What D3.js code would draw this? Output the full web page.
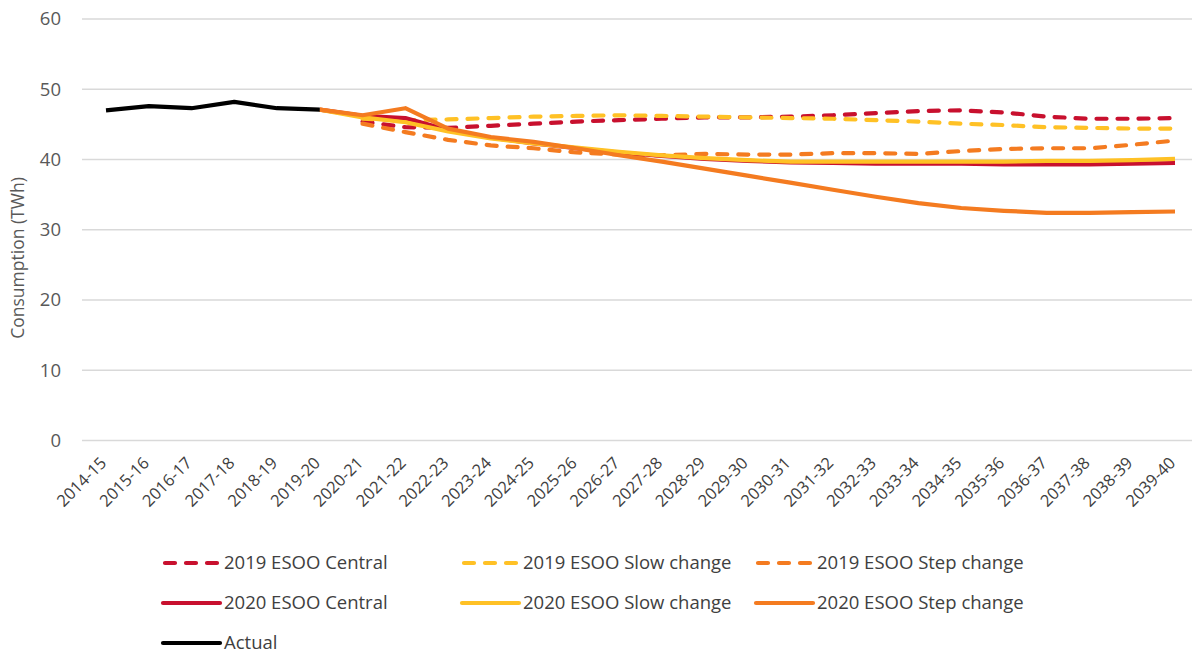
<!DOCTYPE html>
<html>
<head>
<meta charset="utf-8">
<script src="https://cdn.jsdelivr.net/npm/d3@7"></script>
<style>
  html, body { margin: 0; padding: 0; background: #ffffff; }
  svg { display: block; }
  text { font-family: "Open Sans", "Noto Sans", sans-serif; }
</style>
</head>
<body>
<svg id="chart" width="1192" height="657"></svg>
<script>
const categories = ["2014-15","2015-16","2016-17","2017-18","2018-19","2019-20","2020-21","2021-22","2022-23","2023-24","2024-25","2025-26","2026-27","2027-28","2028-29","2029-30","2030-31","2031-32","2032-33","2033-34","2034-35","2035-36","2036-37","2037-38","2038-39","2039-40"];
const yTicks = [0, 10, 20, 30, 40, 50, 60];
const N = null;
const esoo2019Central = [N,N,N,N,N,N,45.4,44.6,44.5,44.8,45.1,45.4,45.6,45.8,46.0,46.0,46.1,46.3,46.6,46.9,47.0,46.7,46.1,45.8,45.8,45.9];
const esoo2019Slow    = [N,N,N,N,N,N,45.8,45.6,45.7,45.9,46.1,46.2,46.3,46.2,46.1,46.0,45.9,45.8,45.6,45.4,45.1,44.9,44.6,44.5,44.4,44.4];
const esoo2019Step    = [N,N,N,N,N,N,45.1,43.9,42.8,42.0,41.6,41.0,40.7,40.6,40.8,40.7,40.7,40.9,40.9,40.8,41.2,41.5,41.6,41.6,42.1,42.7];
const esoo2020Central = [N,N,N,N,N,47.1,46.2,45.9,44.2,43.1,42.3,41.6,41.0,40.5,40.1,39.8,39.6,39.5,39.4,39.4,39.4,39.3,39.3,39.3,39.4,39.5];
const esoo2020Slow    = [N,N,N,N,N,47.1,46.0,45.3,44.0,43.0,42.3,41.7,41.1,40.6,40.2,39.9,39.7,39.7,39.7,39.7,39.7,39.7,39.8,39.8,39.9,40.1];
const esoo2020Step    = [N,N,N,N,N,47.1,46.3,47.3,44.4,43.2,42.5,41.6,40.6,39.7,38.7,37.7,36.7,35.7,34.7,33.8,33.1,32.7,32.4,32.4,32.5,32.6];
const actual          = [47.0,47.6,47.3,48.2,47.3,47.1,N,N,N,N,N,N,N,N,N,N,N,N,N,N,N,N,N,N,N,N];

const seriesNames = ["2019 ESOO Central","2019 ESOO Slow change","2019 ESOO Step change","2020 ESOO Central","2020 ESOO Slow change","2020 ESOO Step change","Actual"];
const seriesValues = [esoo2019Central, esoo2019Slow, esoo2019Step, esoo2020Central, esoo2020Slow, esoo2020Step, actual];
const seriesColors = ["#C8102E","#FFC125","#F47B20","#C8102E","#FFC125","#F47B20","#000000"];
const seriesDashed = [true, true, true, false, false, false, false];

const svg = d3.select("#chart");
const x = d3.scalePoint().domain(categories).range([106, 1175]);
const y = d3.scaleLinear().domain([0, 60]).range([440.5, 19]);

// gridlines
svg.append("g")
  .selectAll("line").data(yTicks).join("line")
  .attr("x1", 82).attr("x2", 1192)
  .attr("y1", d => y(d)).attr("y2", d => y(d))
  .attr("stroke", "#d9d9d9").attr("stroke-width", 1.5);

// y axis labels
const yAxis = d3.axisLeft(y).tickValues(yTicks).tickSize(0).tickPadding(0).tickFormat(d3.format("d"));
const gy = svg.append("g").attr("transform", "translate(61,0)").call(yAxis);
gy.select(".domain").remove();
gy.selectAll("text").attr("fill", "#595959").style("font-size", "18.5px").style("font-family", "'Open Sans', sans-serif");

// x axis labels
const xAxis = d3.axisBottom(x).tickSize(0).tickPadding(0);
const gx = svg.append("g").attr("transform", "translate(0,448)").call(xAxis);
gx.select(".domain").remove();
gx.selectAll("text")
  .attr("fill", "#404040")
  .style("font-size", "16.5px")
  .style("font-family", "'Open Sans', sans-serif")
  .attr("text-anchor", "end")
  .attr("dy", null)
  .attr("y", 0)
  .attr("transform", "translate(1,16) rotate(-45)");

// y title
svg.append("text")
  .attr("transform", "translate(24,258) rotate(-90)")
  .attr("text-anchor", "middle")
  .attr("fill", "#595959")
  .style("font-size", "17.5px")
  .text("Consumption (TWh)");

// lines
const line = d3.line()
  .defined(d => d != null)
  .x((d, i) => x(categories[i]))
  .y(d => y(d));

svg.append("g").selectAll("path").data(seriesValues).join("path")
  .attr("d", d => line(d))
  .attr("fill", "none")
  .attr("stroke", (d, i) => seriesColors[i])
  .attr("stroke-width", 4.2)
  .attr("stroke-linejoin", "round")
  .attr("stroke-linecap", (d, i) => seriesDashed[i] ? "round" : "butt")
  .attr("stroke-dasharray", (d, i) => seriesDashed[i] ? "10,11" : null);

// legend
const legendCols = [163, 462, 756];
const legendRows = [563, 603, 643];
const legend = svg.append("g").selectAll("g").data(seriesNames).join("g")
  .attr("transform", (d, i) => `translate(${legendCols[i % 3]},${legendRows[Math.floor(i / 3)]})`);
legend.append("line")
  .attr("x1", (d, i) => seriesDashed[i] ? 2 : 0)
  .attr("x2", (d, i) => seriesDashed[i] ? 56 : 57)
  .attr("y1", 0).attr("y2", 0)
  .attr("stroke", (d, i) => seriesColors[i])
  .attr("stroke-width", 4.2)
  .attr("stroke-linecap", "round")
  .attr("stroke-dasharray", (d, i) => seriesDashed[i] ? "10,11" : null);
legend.append("text")
  .attr("x", 61)
  .attr("y", 0)
  .attr("dy", "0.35em")
  .attr("fill", "#404040")
  .style("font-size", "18.5px")
  .text(d => d);
</script>
</body>
</html>
